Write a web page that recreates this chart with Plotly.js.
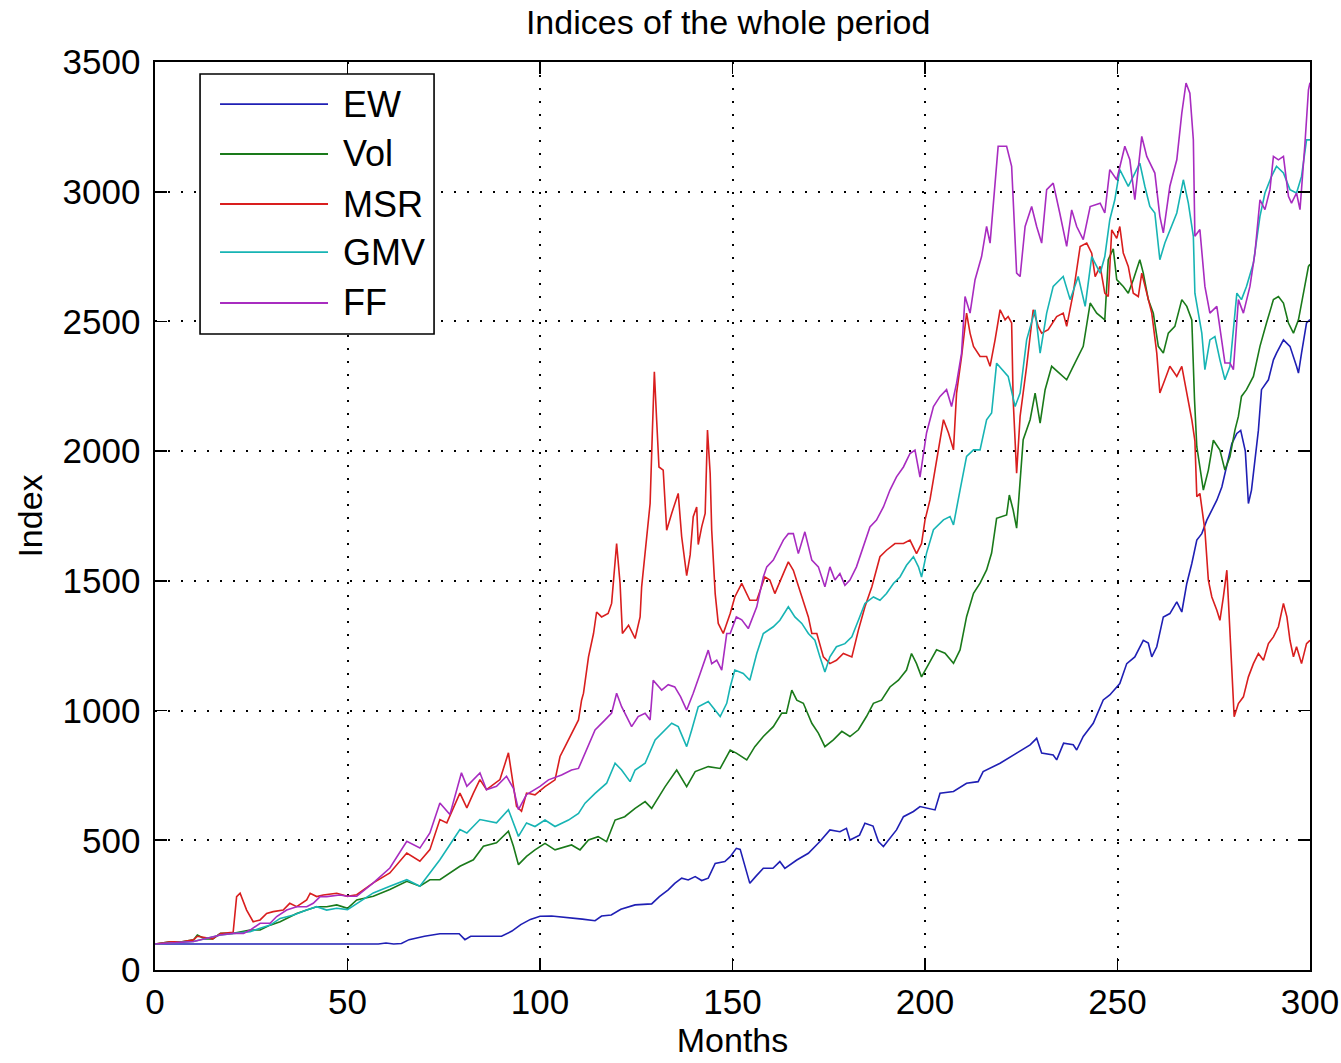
<!DOCTYPE html>
<html>
<head>
<meta charset="utf-8">
<script src="https://cdn.plot.ly/plotly-3.0.1.min.js"></script>
<style>html,body{margin:0;padding:0;background:#fff;}#chart{width:1341px;height:1063px;}</style>
</head>
<body>
<div id="chart"></div>
<script>
// Series names and colours
const seriesNames = ["EW", "Vol", "MSR", "GMV", "FF"];
const seriesColors = ["#1f1fb4", "#1a7a1a", "#d91e1e", "#17b4b4", "#a82cc0"];

// [month, index] readings
const ewData = [[0,100],[10,100],[20,100],[30,100],[40,100],[50,100],[58,100],[60,104],[62,100],[64,102],[66,117],[70,130],[74,140],[79,140],[80.5,117],[82,130],[90,130],[92.7,150],[95,175],[97.5,195],[100,207],[103,208],[107,203],[111,196],[114.3,190],[116,208],[118.5,212],[121,234],[124.7,251],[129,255],[131,283],[133.3,309],[135,334],[136.8,354],[138.5,347],[140.3,360],[142,345],[143.7,354],[145.5,411],[148,418],[149.4,437],[151,469],[152,465],[153.2,398],[154.5,334],[156,360],[158,392],[160.5,392],[162.3,418],[163.6,392],[166.7,424],[169.7,450],[172.7,495],[175.3,540],[177.9,533],[179.6,546],[180.5,501],[183,520],[184.4,566],[186.5,555],[187.9,495],[189.2,476],[191,508],[192.6,540],[194.4,591],[197,611],[198.7,630],[202.6,617],[203.9,681],[207.4,688],[210.8,720],[213.8,726],[215.1,765],[219.5,797],[223.8,836],[227.3,868],[229,893],[230.3,836],[233.3,829],[234.2,810],[236,874],[238.5,868],[239.4,848],[241.1,900],[243.7,951],[246.3,1041],[248,1060],[250.6,1104],[252.4,1181],[254.5,1207],[256.7,1271],[258,1260],[258.9,1207],[260.2,1246],[261.9,1361],[263.6,1374],[265.4,1419],[266.7,1380],[268,1490],[269.3,1567],[270.6,1657],[271.9,1682],[273.2,1734],[274.5,1772],[275.8,1811],[277.1,1862],[278.4,1952],[279.7,2029],[281,2068],[282,2080],[283.2,2000],[284,1798],[284.8,1850],[285.7,1965],[286.6,2081],[287.4,2237],[289.2,2275],[290.5,2352],[291.3,2378],[293.1,2429],[294.8,2404],[296.5,2327],[297,2301],[297.8,2378],[299.1,2494],[300,2507]];

const volData = [[0,100],[4,109],[7,109],[10,116],[11,135],[13,120],[15,120],[17,141],[20,141],[24.7,154],[27.3,154],[29.9,173],[32.5,186],[34.2,199],[36.8,218],[39.4,231],[42,244],[44.6,244],[47.2,251],[50,238],[52.4,270],[56.7,284],[61,310],[65.4,342],[68.8,323],[71.4,348],[74,348],[79.2,400],[82.7,425],[85.3,477],[88.7,490],[91.8,535],[93.1,477],[94.4,406],[96.5,438],[98.7,463],[101.3,488],[103.9,463],[108.2,482],[110.4,463],[112.6,501],[115.1,514],[117.3,495],[119.5,578],[122,591],[124.7,623],[127.3,649],[129,623],[132.5,707],[135.5,771],[138.1,707],[140.3,765],[143.7,784],[146.8,777],[149.4,848],[151,836],[153.7,810],[155.8,861],[158,900],[160.6,938],[162.8,990],[164,990],[165.4,1079],[166.7,1040],[168.4,1028],[170.6,951],[172.3,913],[174,861],[176.2,887],[178.4,920],[180.5,900],[182.7,926],[184.8,977],[186.6,1028],[188.7,1040],[190.9,1091],[193.1,1117],[195.2,1156],[196.5,1220],[197.8,1181],[199.1,1130],[201.3,1189],[203,1234],[205.2,1221],[207.4,1182],[209.1,1234],[210.8,1362],[212.6,1452],[214.3,1491],[216,1542],[217.3,1607],[218.6,1741],[221.2,1754],[221.9,1831],[222.9,1773],[223.8,1703],[224.7,1877],[225.5,2044],[227.3,2121],[228.6,2224],[229.9,2108],[231.2,2237],[232.9,2327],[235,2301],[236.8,2275],[238.5,2327],[241.1,2404],[242.9,2571],[244.6,2532],[246.7,2506],[247.6,2738],[248.9,2780],[249.8,2661],[251.5,2635],[252.8,2609],[254.1,2661],[255.8,2738],[256.7,2686],[258,2584],[259.3,2532],[260.6,2404],[261.9,2378],[263.2,2455],[264.9,2481],[266.7,2584],[268,2558],[269.3,2506],[270,2200],[270.6,2017],[272.3,1850],[273.6,1927],[274.9,2042],[276.6,2004],[277.9,1927],[279.2,1978],[280.5,2081],[281.4,2134],[282.2,2211],[283.5,2237],[285.3,2288],[287,2404],[288.7,2494],[290.5,2584],[291.8,2596],[293.1,2571],[294.4,2494],[295.7,2455],[297,2506],[298.3,2609],[299.6,2712],[300,2720]];

const msrData = [[0,100],[4,109],[7,109],[10,116],[11,130],[15,120],[17,141],[20.3,145],[21.2,283],[22.1,296],[23.8,231],[25.5,186],[27.3,193],[29,218],[30.7,225],[33.3,231],[35,257],[36.8,244],[39.4,270],[40.3,296],[42,283],[43.7,289],[47.2,296],[50,284],[52.4,290],[56.7,336],[61,374],[65.4,451],[68.8,419],[71.4,464],[74,580],[75.8,567],[79.2,682],[81,625],[82.7,682],[84.4,734],[86.1,695],[89.6,734],[91.8,837],[93.9,631],[95.2,612],[96.5,682],[98.7,675],[101.3,707],[103.9,733],[105.2,823],[106.5,861],[108.2,912],[110,964],[110.8,1040],[111.3,1067],[112.6,1207],[113.9,1297],[114.7,1380],[116,1361],[117.7,1374],[118.6,1413],[119.9,1644],[120.8,1490],[121.4,1297],[123,1329],[124.7,1278],[126,1361],[126.4,1477],[127.7,1657],[128.6,1798],[129.2,2081],[129.7,2306],[130.3,2119],[130.9,1939],[132,1927],[132.9,1695],[134.2,1760],[135.9,1837],[136.8,1670],[138.1,1520],[139,1600],[139.8,1747],[140.7,1785],[141.1,1640],[142,1708],[142.9,1760],[143.5,2081],[144.2,1914],[144.6,1695],[145.5,1451],[146.3,1336],[147.6,1297],[149.4,1374],[150.6,1438],[152.4,1490],[154.5,1425],[156.3,1425],[158.4,1515],[159.7,1503],[161,1451],[163.2,1528],[164.5,1573],[165.8,1541],[167.5,1464],[169.7,1361],[170.6,1297],[171.9,1297],[173.6,1207],[175.3,1181],[177,1194],[178.8,1220],[181,1207],[182.7,1310],[184.4,1400],[186.2,1477],[188.3,1593],[190,1618],[192.2,1644],[194.4,1644],[196.1,1657],[197.8,1605],[199.1,1644],[200,1734],[201.3,1813],[203,1967],[204.8,2121],[206.1,2070],[207.4,2005],[208.2,2224],[209.5,2365],[210.8,2532],[211.7,2455],[212.6,2404],[214.3,2365],[216,2365],[216.9,2327],[218.2,2429],[219.5,2545],[220.8,2506],[221.6,2519],[222.5,2494],[222.9,2198],[223.8,1915],[224.7,2134],[226.4,2327],[228.1,2545],[229.4,2481],[230.3,2455],[232,2468],[234.2,2519],[235.9,2532],[236.8,2481],[238.5,2609],[240.3,2789],[242,2802],[243.3,2763],[244.2,2673],[245.5,2712],[246.7,2609],[247.6,2596],[248.5,2853],[249.8,2820],[250.6,2866],[251.5,2764],[252.8,2712],[254.1,2609],[255.4,2596],[256.3,2686],[257.6,2609],[258.9,2532],[260.2,2378],[261,2224],[262.3,2275],[263.6,2327],[265.4,2288],[266.7,2327],[268,2224],[269.3,2121],[270.1,2040],[270.6,1824],[271.4,1837],[272.7,1695],[273.6,1503],[274.5,1438],[275.8,1387],[276.6,1348],[277.5,1438],[278.4,1541],[278.8,1425],[279.7,1130],[280.3,976],[281.4,1027],[282.7,1053],[284,1130],[285.3,1181],[286.6,1220],[287.9,1194],[289.2,1258],[290.5,1284],[291.8,1323],[293.1,1413],[294,1361],[294.8,1271],[295.7,1207],[296.5,1246],[297.8,1181],[299.1,1258],[300,1271]];

const gmvData = [[0,100],[10,110],[17,135],[20.3,141],[24.7,148],[27.3,161],[29.9,173],[32.5,199],[36,212],[39.4,231],[42,244],[44.6,231],[47.2,238],[50,233],[56.7,297],[61,323],[65.4,348],[68.8,323],[71.4,374],[74,425],[79.2,541],[81,528],[84.4,580],[88.7,567],[91.8,618],[94.4,515],[96.5,567],[98.7,553],[101.3,578],[103.9,553],[107.4,578],[110,604],[111.7,643],[114.3,681],[117.3,720],[119.5,797],[121.2,771],[123.4,726],[124.7,771],[127.3,797],[129.9,887],[131.6,912],[134.2,951],[135.9,938],[138.1,861],[139.4,925],[141.1,1015],[143.7,1035],[146.8,977],[148.5,1028],[149.4,1091],[150.6,1156],[152.8,1143],[154.5,1117],[156.3,1220],[158,1297],[160.6,1323],[162.3,1348],[164.5,1400],[166.2,1361],[168,1336],[169.7,1297],[171.4,1271],[172.7,1207],[174,1149],[175.3,1207],[177,1246],[179.2,1258],[181,1284],[182.7,1348],[184.4,1413],[186.6,1438],[188.3,1425],[190,1451],[191.8,1490],[193.5,1515],[195.2,1560],[197,1593],[198.3,1554],[199.1,1515],[200.4,1607],[202.2,1697],[204.8,1735],[206.5,1748],[207.4,1716],[209.1,1850],[210.8,1980],[212.6,2005],[214.3,2005],[216,2121],[217.3,2147],[218.6,2339],[221.6,2288],[223.4,2172],[224.7,2224],[226.4,2429],[228.6,2545],[229.9,2378],[231.6,2532],[233.3,2635],[235.9,2673],[237.7,2584],[239.8,2673],[241.6,2558],[243.3,2750],[245.5,2686],[246.7,2750],[248,2892],[249.3,2969],[250.6,3085],[252.8,3021],[254.1,3059],[255.8,3110],[257.1,3021],[258.4,2943],[259.7,2918],[261,2738],[262.3,2802],[264,2866],[265.4,2918],[267.1,3046],[268.4,2956],[269.7,2828],[270.1,2609],[271.9,2455],[272.7,2314],[274,2429],[275.3,2442],[276.6,2352],[277.9,2275],[279.2,2327],[281,2609],[282.2,2584],[283.5,2635],[285.3,2725],[287,2905],[288.3,2995],[290,3059],[291.3,3098],[293.1,3072],[294.8,3008],[296.5,2995],[297.8,3059],[299.1,3200],[300,3200]];

const ffData = [[0,100],[10,110],[17,135],[20.3,141],[23,141],[24.7,154],[27.3,180],[29.9,180],[31.6,206],[34.2,231],[36.8,244],[39.4,244],[41.1,257],[42.9,283],[44.6,283],[48,289],[50,284],[52.4,284],[56.7,336],[61,393],[65.4,496],[68.8,470],[71.4,528],[74,644],[76.6,599],[79.6,760],[81,708],[84.4,760],[86.1,695],[88.7,708],[91.3,747],[93.1,700],[94.4,618],[96.5,676],[100,708],[102.2,733],[105.6,752],[108.2,771],[110,777],[111.7,835],[114.3,925],[116.9,964],[118.6,990],[119.9,1067],[121.2,1015],[123.8,938],[125.5,977],[127.3,990],[128.6,964],[129.4,1117],[131.6,1079],[133.3,1100],[135,1091],[136.5,1054],[138.1,1002],[139.8,1067],[141.1,1118],[141.6,1143],[143.7,1233],[144.6,1181],[145.9,1194],[147.2,1156],[148.5,1297],[149.4,1297],[151,1361],[152.4,1350],[154.1,1316],[156.3,1400],[158,1515],[158.9,1554],[160.6,1580],[163.2,1657],[164.5,1682],[165.8,1682],[167.1,1605],[168.8,1689],[170.6,1580],[172.3,1554],[174,1477],[175.3,1554],[176.6,1503],[177.9,1528],[179.2,1483],[180.5,1503],[182.2,1554],[184,1631],[185.7,1708],[187.4,1734],[189.2,1785],[190.9,1850],[192.6,1901],[194.4,1939],[196.1,1991],[197.4,2004],[198.7,1900],[200.4,2070],[202.2,2172],[203.9,2211],[205.6,2237],[206.9,2172],[208.2,2262],[209.5,2378],[210.4,2596],[211.7,2532],[213,2661],[214.7,2750],[216,2866],[216.9,2802],[218.2,3033],[219,3175],[221.2,3175],[222.5,3098],[223.8,2686],[224.7,2673],[226,2866],[227.7,2943],[229,2866],[230.3,2802],[231.6,3008],[233.3,3033],[235,2918],[236.8,2789],[238.1,2930],[239.4,2866],[241.1,2815],[242.9,2943],[245.5,2956],[246.7,2918],[248,3085],[249.8,3046],[251.9,3175],[253.2,3123],[254.5,2969],[256.3,3213],[257.6,3136],[259.7,3072],[261,2905],[261.9,2841],[263.6,3021],[265.4,3123],[266.7,3303],[267.8,3419],[268.8,3380],[269.7,3200],[270.1,2828],[271.4,2854],[272.7,2635],[274,2532],[275.8,2558],[276.6,2481],[277.9,2340],[279.2,2340],[280.1,2314],[281.4,2584],[282.7,2532],[284.4,2635],[285.7,2764],[287,2969],[288.3,2931],[289.6,3008],[290.5,3136],[291.8,3123],[293.1,3136],[294.4,2982],[295.2,2956],[296.5,2995],[297.4,2931],[298.7,3188],[299.6,3393],[300,3420]];

const xTicks = [0, 50, 100, 150, 200, 250, 300];
const yTicks = [0, 500, 1000, 1500, 2000, 2500, 3000, 3500];

const allData = [ewData, volData, msrData, gmvData, ffData];
const FONT = '"Liberation Sans", Arial, sans-serif';

const traces = allData.map((d, i) => ({
  type: 'scatter',
  mode: 'lines',
  name: seriesNames[i],
  x: d.map(p => p[0]),
  y: d.map(p => p[1]),
  line: {color: seriesColors[i], width: 1.6},
  showlegend: false,
  hoverinfo: 'x+y+name'
}));

// Hand-made legend box (MATLAB style)
const legX0 = 0.039, legX1 = 0.2416, legY0 = 0.7004, legY1 = 0.9868;
const legRows = [0.9537, 0.8987, 0.8436, 0.7907, 0.7346];
const shapes = [{
  type: 'rect', xref: 'paper', yref: 'paper',
  x0: legX0, x1: legX1, y0: legY0, y1: legY1,
  line: {color: '#000', width: 1.6}, fillcolor: '#fff', layer: 'above'
}];
const annotations = [];
seriesNames.forEach((n, i) => {
  shapes.push({type: 'line', xref: 'paper', yref: 'paper',
    x0: 0.0563, x1: 0.1498, y0: legRows[i], y1: legRows[i],
    line: {color: seriesColors[i], width: 1.8}, layer: 'above'});
  annotations.push({xref: 'paper', yref: 'paper', x: 0.161, y: legRows[i],
    xanchor: 'left', yanchor: 'middle', text: n, showarrow: false,
    font: {family: FONT, size: 36, color: '#000'}});
});

const axisCommon = {
  showline: true, linecolor: '#000', linewidth: 1.6, mirror: 'ticks',
  ticks: 'inside', ticklen: 12, tickwidth: 1.6, tickcolor: '#000',
  showgrid: true, gridcolor: '#000', gridwidth: 2, griddash: '2px,11px',
  zeroline: false, tickfont: {family: FONT, size: 35, color: '#000'}
};

const layout = {
  width: 1341, height: 1063,
  margin: {l: 155, r: 31, t: 62, b: 93, pad: 0},
  paper_bgcolor: '#fff', plot_bgcolor: '#fff',
  title: {text: 'Indices of the whole period', font: {family: FONT, size: 34, color: '#000'},
          x: 0.543, xanchor: 'center', xref: 'container', y: 0.979, yref: 'container', yanchor: 'middle'},
  xaxis: Object.assign({}, axisCommon, {
    range: [0, 300], tickvals: xTicks, ticktext: xTicks.map(String), ticklabelstandoff: 0,
    title: {text: 'Months', font: {family: FONT, size: 34, color: '#000'}, standoff: 8}
  }),
  yaxis: Object.assign({}, axisCommon, {
    range: [0, 3500], tickvals: yTicks, ticktext: yTicks.map(String), ticklabelstandoff: 6,
    title: {text: 'Index', font: {family: FONT, size: 34, color: '#000'}, standoff: 9}
  }),
  shapes: shapes,
  annotations: annotations,
  showlegend: false
};

Plotly.newPlot('chart', traces, layout, {displayModeBar: false, staticPlot: true});
</script>
</body>
</html>
